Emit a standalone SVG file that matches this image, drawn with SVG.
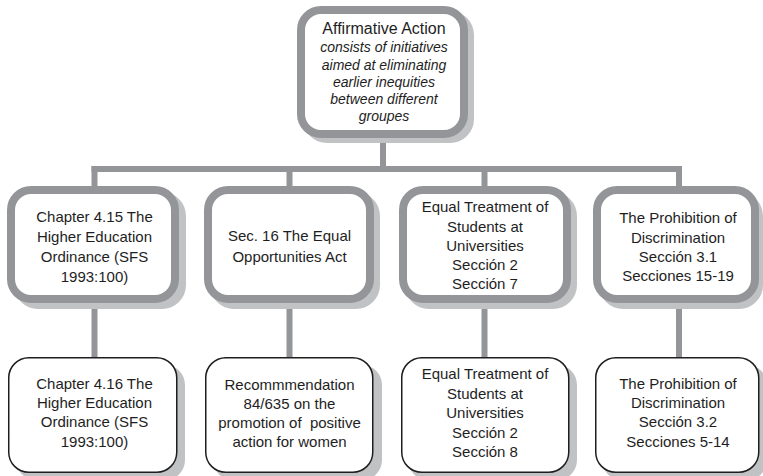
<svg xmlns="http://www.w3.org/2000/svg" width="763" height="476" viewBox="0 0 763 476">
  <style>
    .link { stroke: #939598; stroke-width: 6; fill: none; stroke-linecap: butt; }
    .thick { fill: #ffffff; stroke: #939598; stroke-width: 8; }
    .thin { fill: #ffffff; stroke: #1e1e1e; stroke-width: 1.5; }
    .shadow { fill: #c1c2c4; stroke: none; }
    text { font-family: "Liberation Sans", Arial, sans-serif; font-size: 15px; fill: #1e1e1e; text-anchor: middle; white-space: pre; }
    .title { font-size: 16px; }
    .note { font-style: italic; font-size: 14px; }
  </style>

  <!-- connectors -->
  <g id="connectors">
    <line class="link" x1="383" y1="134" x2="383" y2="169"/>
    <line class="link" x1="91.5" y1="169" x2="679" y2="169"/>
    <line class="link" x1="94.5" y1="166" x2="94.5" y2="360"/>
    <line class="link" x1="289.5" y1="166" x2="289.5" y2="360"/>
    <line class="link" x1="484.5" y1="166" x2="484.5" y2="360"/>
    <line class="link" x1="679" y1="166" x2="679" y2="360"/>
  </g>

  <!-- top node -->
  <g id="affirmative-action">
    <rect class="shadow" x="303" y="11" width="171" height="132" rx="24"/>
    <rect class="thick" x="301" y="10" width="163" height="124" rx="20"/>
    <text class="title" x="384" y="34">Affirmative Action</text>
    <text class="note" x="384" y="52">consists of initiatives</text>
    <text class="note" x="384" y="70">aimed at eliminating</text>
    <text class="note" x="384" y="87">earlier inequities</text>
    <text class="note" x="384" y="104">between different</text>
    <text class="note" x="384" y="121">groupes</text>
  </g>

  <!-- second row -->
  <g id="chapter-4-15">
    <rect class="shadow" x="14" y="192" width="172" height="117" rx="24"/>
    <rect class="thick" x="11" y="190" width="164" height="109" rx="20"/>
    <text x="94.5" y="222">Chapter 4.15 The</text>
    <text x="94.5" y="242">Higher Education</text>
    <text x="94.5" y="262">Ordinance (SFS</text>
    <text x="94.5" y="282">1993:100)</text>
  </g>

  <g id="sec-16">
    <rect class="shadow" x="210" y="192" width="170" height="117" rx="24"/>
    <rect class="thick" x="208" y="190" width="162" height="109" rx="20"/>
    <text x="289.5" y="241">Sec. 16 The Equal</text>
    <text x="289.5" y="262">Opportunities Act</text>
  </g>

  <g id="equal-treatment-7">
    <rect class="shadow" x="405" y="192" width="172" height="117" rx="24"/>
    <rect class="thick" x="403" y="190" width="164" height="109" rx="20"/>
    <text x="485" y="212">Equal Treatment of</text>
    <text x="485" y="232">Students at</text>
    <text x="485" y="251">Universities</text>
    <text x="485" y="270">Sección 2</text>
    <text x="485" y="289">Sección 7</text>
  </g>

  <g id="prohibition-3-1">
    <rect class="shadow" x="599" y="192" width="164" height="117" rx="24"/>
    <rect class="thick" x="597" y="190" width="158" height="109" rx="20"/>
    <text x="678" y="223">The Prohibition of</text>
    <text x="678" y="243">Discrimination</text>
    <text x="678" y="262">Sección 3.1</text>
    <text x="678" y="281">Secciones 15-19</text>
  </g>

  <!-- bottom row -->
  <g id="chapter-4-16">
    <rect class="shadow" x="16" y="365" width="169" height="115" rx="20"/>
    <rect class="thin" x="8.75" y="357.75" width="168" height="114.5" rx="20"/>
    <text x="94.5" y="389">Chapter 4.16 The</text>
    <text x="94.5" y="408">Higher Education</text>
    <text x="94.5" y="427">Ordinance (SFS</text>
    <text x="94.5" y="447">1993:100)</text>
  </g>

  <g id="recommendation">
    <rect class="shadow" x="213" y="365" width="169" height="115" rx="20"/>
    <rect class="thin" x="205.75" y="357.75" width="167" height="114.5" rx="20"/>
    <text x="289.5" y="390">Recommmendation</text>
    <text x="289.5" y="409">84/635 on the</text>
    <text x="289.5" y="428">promotion of&#160; positive</text>
    <text x="289.5" y="447">action for women</text>
  </g>

  <g id="equal-treatment-8">
    <rect class="shadow" x="408" y="365" width="169" height="115" rx="20"/>
    <rect class="thin" x="401.75" y="357.75" width="167" height="114.5" rx="20"/>
    <text x="485" y="379">Equal Treatment of</text>
    <text x="485" y="398.5">Students at</text>
    <text x="485" y="418">Universities</text>
    <text x="485" y="437.5">Sección 2</text>
    <text x="485" y="457">Sección 8</text>
  </g>

  <g id="prohibition-3-2">
    <rect class="shadow" x="602" y="365" width="165" height="115" rx="20"/>
    <rect class="thin" x="595.75" y="357.75" width="163" height="114.5" rx="20"/>
    <text x="678" y="389">The Prohibition of</text>
    <text x="678" y="408">Discrimination</text>
    <text x="678" y="427">Sección 3.2</text>
    <text x="678" y="447">Secciones 5-14</text>
  </g>
</svg>
